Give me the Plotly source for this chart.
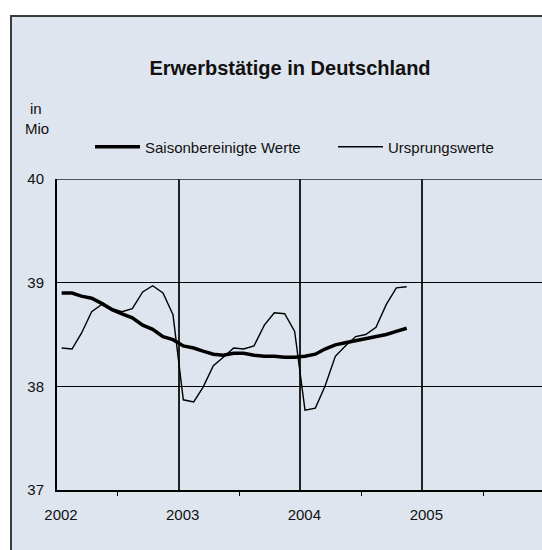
import plotly.graph_objects as go

# --- data (monthly, Jan 2002 - Nov 2004), in Mio ---
months = [f"{y}-{m:02d}-15" for y in (2002, 2003, 2004) for m in range(1, 13)][:35]

saisonbereinigt = [38.90, 38.90, 38.87, 38.85, 38.80, 38.74, 38.70, 38.66, 38.59, 38.55,
                   38.48, 38.45, 38.39, 38.37, 38.34, 38.31, 38.30, 38.32, 38.32, 38.30,
                   38.29, 38.29, 38.28, 38.28, 38.29, 38.31, 38.36, 38.40, 38.42, 38.44,
                   38.46, 38.48, 38.50, 38.53, 38.56]

ursprung = [38.37, 38.36, 38.51, 38.72, 38.79, 38.75, 38.72, 38.75, 38.91, 38.97,
            38.90, 38.69, 37.87, 37.85, 37.99, 38.20, 38.28, 38.37, 38.36, 38.39,
            38.59, 38.71, 38.70, 38.53, 37.77, 37.79, 38.00, 38.29, 38.39, 38.48,
            38.50, 38.57, 38.79, 38.95, 38.96]

year_ticks = ["2002-01-01", "2003-01-01", "2004-01-01", "2005-01-01"]
year_labels = ["2002", "2003", "2004", "2005"]
half_year_ticks = ["2002-07-02", "2003-07-02", "2004-07-02", "2005-07-02"]
y_ticks = [37, 38, 39, 40]

title_text = "Erwerbstätige in Deutschland"
unit_lines = ["in", "Mio"]

FONT = "Liberation Sans, Arial, sans-serif"
BG = "#dfe5ee"
FS = 15

fig = go.Figure()
fig.add_trace(go.Scatter(x=months, y=saisonbereinigt, mode="lines",
                         name="Saisonbereinigte Werte", legend="legend",
                         line=dict(color="black", width=3.5)))
fig.add_trace(go.Scatter(x=months, y=ursprung, mode="lines",
                         name="Ursprungswerte", legend="legend2",
                         line=dict(color="black", width=1.4)))

# outer frame
fig.add_shape(type="rect", xref="paper", yref="paper",
              x0=(11 - 57) / 485, x1=1.3, y0=-0.6, y1=(490 - 16) / 311,
              line=dict(color="#3a3a3a", width=2), fillcolor=BG, layer="below")
# top border of plot area
fig.add_shape(type="line", xref="paper", yref="y", x0=0, x1=1, y0=40, y1=40,
              line=dict(color="#222", width=1.5))

fig.add_annotation(text=unit_lines[0], xref="paper", yref="paper",
                   x=(36 - 57) / 485, y=(490 - 108) / 311, showarrow=False,
                   xanchor="center", yanchor="middle",
                   font=dict(family=FONT, size=FS, color="#111"))
fig.add_annotation(text=unit_lines[1], xref="paper", yref="paper",
                   x=(37 - 57) / 485, y=(490 - 128) / 311, showarrow=False,
                   xanchor="center", yanchor="middle",
                   font=dict(family=FONT, size=FS, color="#111"))

leg_common = dict(orientation="h", xanchor="left", yanchor="middle",
                  bgcolor="rgba(0,0,0,0)", borderwidth=0,
                  font=dict(family=FONT, size=FS, color="#111"), itemwidth=45)

fig.update_layout(
    width=542, height=550,
    margin=dict(l=57, r=0, t=179, b=60, autoexpand=False),
    paper_bgcolor="white",
    plot_bgcolor="rgba(0,0,0,0)",
    font=dict(family=FONT, size=FS, color="#111"),
    title=dict(text=f"<b>{title_text}</b>", x=290 / 542, xanchor="center",
               y=1 - 68 / 550, yanchor="middle", xref="container", yref="container",
               font=dict(family=FONT, size=20, color="#111")),
    showlegend=True,
    legend=dict(x=(90 - 57) / 485, y=(490 - 147) / 311, **leg_common),
    legend2=dict(x=(333 - 57) / 485, y=(490 - 147) / 311, **leg_common),
)

fig.update_xaxes(
    type="date", range=["2002-01-01", "2005-12-26"],
    tickvals=year_ticks, ticktext=year_labels, ticks="",
    showgrid=True, gridcolor="#222", gridwidth=1.5,
    showline=True, linecolor="black", linewidth=2,
    ticklabelshift=4, ticklabelstandoff=10,
    minor=dict(tickmode="array", tickvals=half_year_ticks, ticks="outside", ticklen=4,
               tickcolor="black", tickwidth=1, showgrid=False),
    zeroline=False, fixedrange=True,
)
fig.update_yaxes(
    range=[37, 40], tickvals=y_ticks, ticks="",
    showgrid=True, gridcolor="black", gridwidth=1,
    showline=True, linecolor="black", linewidth=2,
    ticklabelstandoff=8,
    zeroline=False, fixedrange=True,
)

fig.write_html("out.html",
               config={"displayModeBar": False},
               post_script="document.body.style.margin='0';"
                           "document.body.style.overflow='hidden';")
